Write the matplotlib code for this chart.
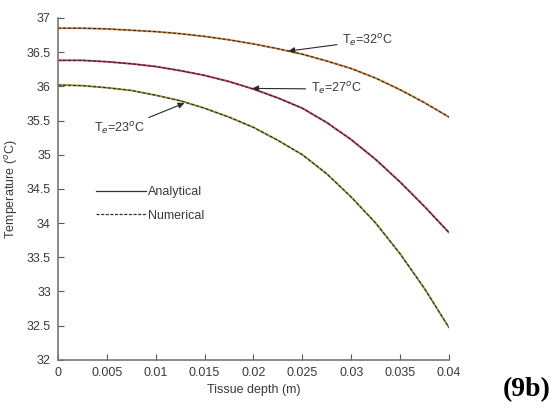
"""Temperature profiles through tissue depth for three ambient temperatures."""

import matplotlib
matplotlib.use("Agg")
import matplotlib.pyplot as plt

# Tissue depth (m)
depth = [0.0, 0.0025, 0.005, 0.0075, 0.01, 0.0125, 0.015, 0.0175, 0.02,
         0.0225, 0.025, 0.0275, 0.03, 0.0325, 0.035, 0.0375, 0.04]

# Temperature profiles (degC) for each ambient temperature Te
temp_te32 = [36.85, 36.85, 36.84, 36.82, 36.80, 36.77, 36.73, 36.68, 36.62,
             36.55, 36.47, 36.37, 36.26, 36.12, 35.95, 35.76, 35.55]
temp_te27 = [36.38, 36.38, 36.36, 36.33, 36.29, 36.23, 36.16, 36.07, 35.96,
             35.83, 35.68, 35.47, 35.22, 34.93, 34.60, 34.24, 33.86]
temp_te23 = [36.02, 36.01, 35.98, 35.94, 35.87, 35.79, 35.68, 35.55, 35.40,
             35.21, 35.00, 34.72, 34.38, 34.00, 33.55, 33.04, 32.47]

x_ticks = [0, 0.005, 0.01, 0.015, 0.02, 0.025, 0.03, 0.035, 0.04]
x_ticklabels = ["0", "0.005", "0.01", "0.015", "0.02", "0.025", "0.03", "0.035", "0.04"]
y_ticks = [32, 32.5, 33, 33.5, 34, 34.5, 35, 35.5, 36, 36.5, 37]
y_ticklabels = ["32", "32.5", "33", "33.5", "34", "34.5", "35", "35.5", "36", "36.5", "37"]

FONT = ["Liberation Sans Narrow", "Liberation Sans", "DejaVu Sans"]
TEXT_COLOR = "#3a3a3a"

fig = plt.figure(figsize=(5.51, 4.08), dpi=100)
ax = fig.add_axes([0.105, 0.118, 0.710, 0.838])

curves = [
    (temp_te32, "#d98a3a"),
    (temp_te27, "#c8405a"),
    (temp_te23, "#a8a040"),
]
for temps, color in curves:
    # analytical solution (solid, coloured) with numerical (dashed, dark) on top
    ax.plot(depth, temps, color=color, linewidth=1.4, solid_capstyle="round")
    ax.plot(depth, temps, color="#2a2a2a", linewidth=0.8, linestyle=(0, (3, 1.5)))

h_an, = ax.plot([], [], color="#333333", linewidth=0.9)
h_num, = ax.plot([], [], color="#333333", linewidth=0.9, linestyle=(0, (2.5, 1.2)))
leg = ax.legend(
    [h_an, h_num], ["Analytical", "Numerical"],
    loc="upper left", bbox_to_anchor=(0.07, 0.54), frameon=False,
    handlelength=4.0, handletextpad=0.1, labelspacing=0.9,
    prop={"family": FONT, "size": 9},
)
for t in leg.get_texts():
    t.set_color(TEXT_COLOR)

arrow = dict(arrowstyle="-|>", color="#2a2a2a", lw=0.8, mutation_scale=9)
ax.annotate("T$_e$=32$^o$C", xy=(0.0233, 36.51), xytext=(0.0291, 36.67),
            fontsize=9, family=FONT, color=TEXT_COLOR, arrowprops=arrow, va="center")
ax.annotate("T$_e$=27$^o$C", xy=(0.0196, 35.97), xytext=(0.0259, 35.96),
            fontsize=9, family=FONT, color=TEXT_COLOR, arrowprops=arrow, va="center")
ax.annotate("T$_e$=23$^o$C", xy=(0.0132, 35.77), xytext=(0.0037, 35.37),
            fontsize=9, family=FONT, color=TEXT_COLOR, arrowprops=arrow, va="center")

ax.set_xlim(0, 0.04)
ax.set_ylim(32, 37)
ax.set_xticks(x_ticks)
ax.set_xticklabels(x_ticklabels)
ax.set_yticks(y_ticks)
ax.set_yticklabels(y_ticklabels)
ax.tick_params(direction="in", length=4, width=0.8, colors="#555555",
               labelsize=9, labelcolor=TEXT_COLOR, pad=5)
for lbl in ax.get_xticklabels() + ax.get_yticklabels():
    lbl.set_family(FONT)

for side in ("top", "right"):
    ax.spines[side].set_visible(False)
for side in ("left", "bottom"):
    ax.spines[side].set_color("#777777")
    ax.spines[side].set_linewidth(1.2)

ax.set_xlabel("Tissue depth (m)", fontsize=9, family=FONT, color=TEXT_COLOR, labelpad=4)
ax.set_ylabel("Temperature ($^o$C)", fontsize=9, family=FONT, color=TEXT_COLOR, labelpad=5)

fig.text(0.999, 0.028, "(9b)", fontsize=20, fontweight="bold", ha="right", va="baseline",
         family=["Liberation Serif", "DejaVu Serif"], color="black")

fig.savefig("out.png", dpi=100)
